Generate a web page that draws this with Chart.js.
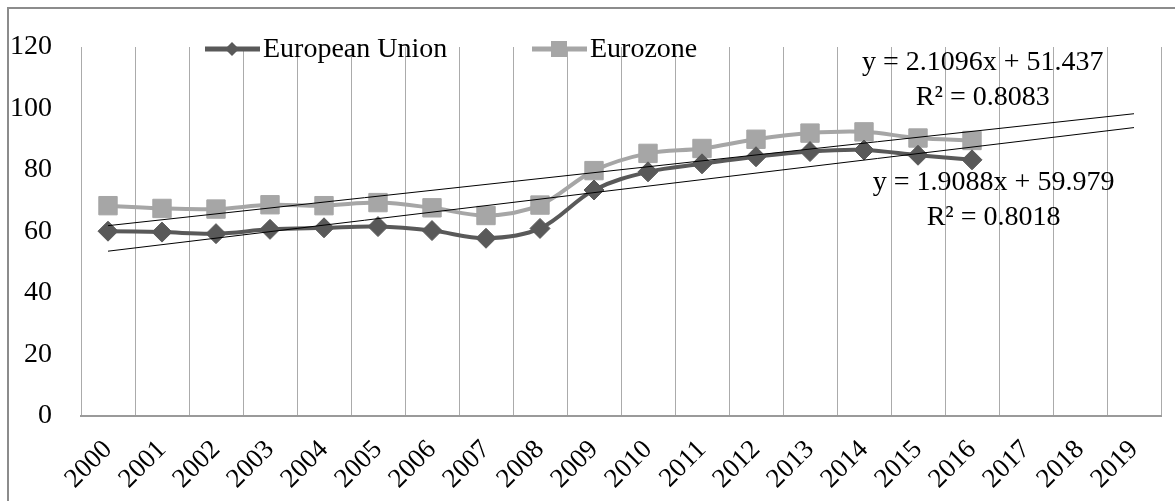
<!DOCTYPE html>
<html>
<head>
<meta charset="utf-8">
<script src="https://cdn.jsdelivr.net/npm/chart.js@4/dist/chart.umd.min.js"></script>
<style>
  body { margin: 0; background: #fff; font-family: 'Liberation Serif', serif; }
  #wrap { position: relative; width: 1175px; height: 501px; }
  .preload { position: absolute; left: -9999px; font: 28px 'Liberation Serif'; }
</style>
</head>
<body>
<span class="preload">European Union 0123456789</span>
<div id="wrap"><canvas id="myLineChart"></canvas></div>
<script>
// years on the x axis
const years = ['2000','2001','2002','2003','2004','2005','2006','2007','2008','2009',
               '2010','2011','2012','2013','2014','2015','2016','2017','2018','2019'];

// values
const euValues = [60.1, 59.8, 59.3, 60.7, 61.2, 61.6, 60.3, 57.8, 61.0, 73.5, 79.4, 82.0, 84.3, 86.0, 86.5, 84.8, 83.3];
const ezValues = [68.4, 67.5, 67.3, 68.7, 68.4, 69.4, 67.7, 65.2, 68.6, 79.8, 85.4, 87.0, 90.0, 92.0, 92.4, 90.4, 89.6];

// trendline end points (first and last year)
const euTrend = [53.6, null, null, null, null, null, null, null, null, null, null, null, null, null, null, null, null, null, null, 93.8];
const ezTrend = [61.9, null, null, null, null, null, null, null, null, null, null, null, null, null, null, null, null, null, null, 98.3];

const seriesNames = ['European Union', 'Eurozone'];
const trendLabels = [
  ['y = 2.1096x + 51.437', 'R² = 0.8083'],
  ['y = 1.9088x + 59.979', 'R² = 0.8018']
];

const darkGrey = '#595959';
const lightGrey = '#a6a6a6';
const serif = "'Liberation Serif', 'Times New Roman', serif";

// frame + legend + equations
const extras = {
  id: 'extras',
  beforeDraw(chart) {
    const ctx = chart.ctx;
    ctx.save();
    ctx.strokeStyle = '#8c8c8c';
    ctx.lineWidth = 2;
    ctx.beginPath();
    ctx.moveTo(8, chart.height);
    ctx.lineTo(8, 8);
    ctx.lineTo(chart.width, 8);
    ctx.stroke();
    ctx.restore();
  },
  afterDraw(chart) {
    const ctx = chart.ctx;
    const area = chart.chartArea;
    const x = chart.scales.x, y = chart.scales.y;
    ctx.save();
    ctx.font = '28px ' + serif;
    ctx.fillStyle = '#000';
    ctx.textBaseline = 'middle';

    // legend
    const ly = area.top + 2;
    let lx = area.left + 124;
    ctx.strokeStyle = darkGrey;
    ctx.lineWidth = 5;
    ctx.beginPath(); ctx.moveTo(lx, ly); ctx.lineTo(lx + 55, ly); ctx.stroke();
    ctx.fillStyle = darkGrey;
    ctx.beginPath();
    ctx.moveTo(lx + 27 - 7, ly); ctx.lineTo(lx + 27, ly - 7);
    ctx.lineTo(lx + 27 + 7, ly); ctx.lineTo(lx + 27, ly + 7);
    ctx.closePath(); ctx.fill();
    ctx.fillStyle = '#000';
    ctx.textAlign = 'left';
    ctx.fillText(seriesNames[0], lx + 58, ly + 1);

    lx = area.left + 451;
    ctx.strokeStyle = lightGrey;
    ctx.beginPath(); ctx.moveTo(lx, ly); ctx.lineTo(lx + 55, ly); ctx.stroke();
    ctx.fillStyle = lightGrey;
    ctx.fillRect(lx + 27 - 8, ly - 8, 16, 16);
    ctx.fillStyle = '#000';
    ctx.fillText(seriesNames[1], lx + 58, ly + 1);

    // trendline equations
    ctx.textAlign = 'center';
    ctx.fillText(trendLabels[0][0], x.getPixelForValue(16.2), y.getPixelForValue(114.8));
    ctx.fillText(trendLabels[0][1], x.getPixelForValue(16.2), y.getPixelForValue(103.4));
    ctx.fillText(trendLabels[1][0], x.getPixelForValue(16.4), y.getPixelForValue(75.8));
    ctx.fillText(trendLabels[1][1], x.getPixelForValue(16.4), y.getPixelForValue(64.4));
    ctx.restore();
  }
};

function drawChart() {
  let ctx = document.getElementById('myLineChart').getContext('2d');
  return new Chart(ctx, {
    type: 'line',
    data: {
      labels: years,
      datasets: [
        {
          label: 'EU trend', data: euTrend, order: 0,
          borderColor: '#000', borderWidth: 1, pointRadius: 0, spanGaps: true, tension: 0
        },
        {
          label: 'Eurozone trend', data: ezTrend, order: 0,
          borderColor: '#000', borderWidth: 1, pointRadius: 0, spanGaps: true, tension: 0
        },
        {
          label: seriesNames[0], data: euValues, order: 1,
          borderColor: darkGrey, borderWidth: 4, tension: 0.35,
          pointStyle: 'rectRot', pointRadius: 10, pointBackgroundColor: darkGrey,
          pointBorderColor: darkGrey, pointBorderWidth: 1
        },
        {
          label: seriesNames[1], data: ezValues, order: 2,
          borderColor: lightGrey, borderWidth: 4, tension: 0.35,
          pointStyle: 'rect', pointRadius: 13, pointBackgroundColor: lightGrey,
          pointBorderColor: lightGrey, pointBorderWidth: 1
        }
      ]
    },
    options: {
      responsive: true,
      maintainAspectRatio: false,
      animation: false,
      layout: { padding: { top: 47, left: 11, right: 2, bottom: 0 } },
      plugins: { legend: { display: false }, tooltip: { enabled: false } },
      scales: {
        x: {
          offset: true,
          grid: { display: true, offset: true, color: '#ababab', lineWidth: 1, drawTicks: false },
          border: { display: true, color: '#9a9a9a', width: 2 },
          ticks: {
            color: '#000', font: { family: serif, size: 27 },
            maxRotation: 45, minRotation: 45, padding: 18, autoSkip: false
          },
          afterFit(scale) {
            scale.height = 85;
            scale.paddingLeft = 0;
            scale.paddingRight = 0;
          }
        },
        y: {
          min: 0, max: 120,
          grid: { display: false, drawTicks: false },
          border: { display: false },
          ticks: {
            stepSize: 20, color: '#000', font: { family: serif, size: 28 }, padding: 29
          },
          afterFit(scale) {
            scale.width = 70;
          }
        }
      }
    },
    plugins: [extras]
  });
}

Chart.defaults.font.family = serif;
let myLineChart;
document.fonts.load("28px 'Liberation Serif'").then(() => {
  myLineChart = drawChart();
}).catch(() => {
  myLineChart = drawChart();
});
</script>
</body>
</html>
